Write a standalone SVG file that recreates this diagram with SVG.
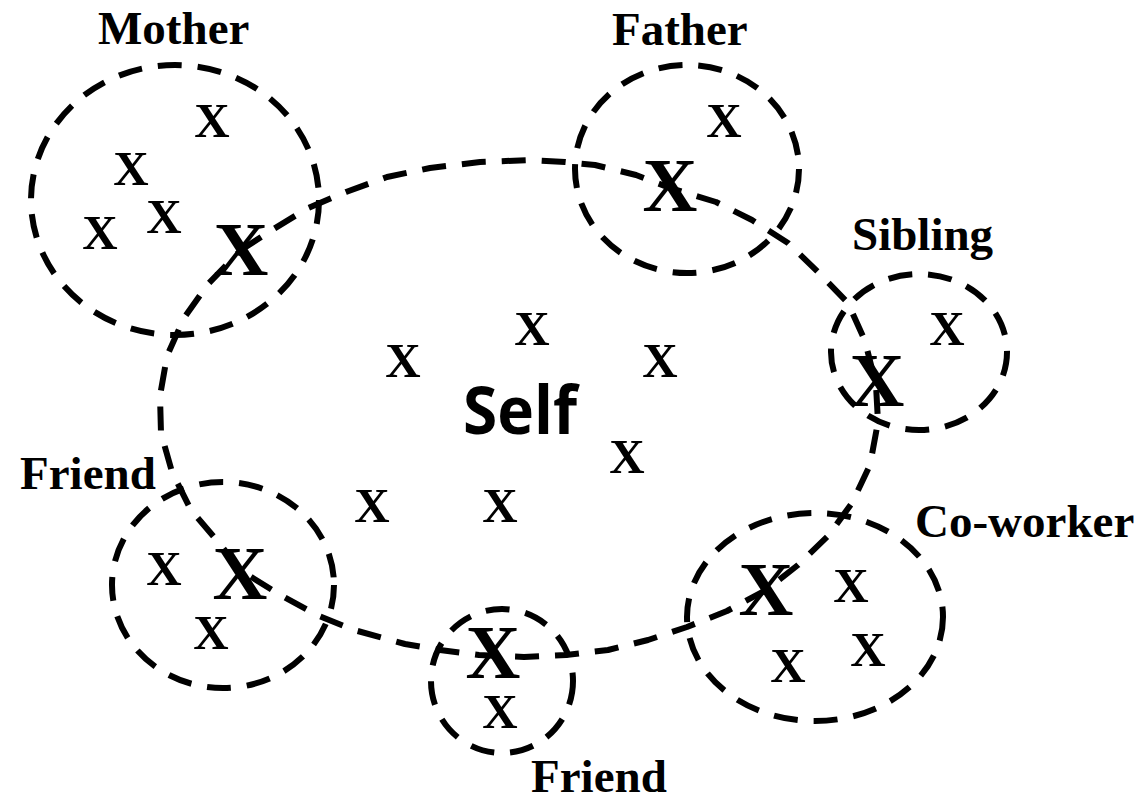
<svg xmlns="http://www.w3.org/2000/svg" width="1143" height="797" viewBox="0 0 1143 797">
<style>
.ring{fill:none;stroke:#000;stroke-width:6;stroke-dasharray:24 16;stroke-linejoin:round}
.lbl{font-family:"Liberation Serif","Times New Roman",serif;font-weight:bold;font-size:47px;fill:#000}
.x{font-family:"Liberation Serif","Times New Roman",serif;font-weight:bold;font-size:49px;fill:#000;text-anchor:middle}
.bx{font-family:"Liberation Serif","Times New Roman",serif;font-weight:bold;font-size:76px;fill:#000;text-anchor:middle}
.self{font-family:"Open Sans","Noto Sans",sans-serif;font-weight:bold;font-size:67px;fill:#000;text-anchor:middle}
</style>
<rect width="1143" height="797" fill="#fff"/>
<g id="self">
<path class="ring" d="M241,250 L272,230 L308,208 L346,192 L387,177 L430,168 L480,162 L530,160 L565,162 L595,165 L636,175 L670,188 L716,202 L752,220 L788,243 L818,272 L848,303 L865,341 L876,385 L878,422 L870,465 L852,503 L828,536 L798,565 L766,590 L727,611 L687,627 L648,640 L608,650 L566,655 L524,657 L479,655 L440,650 L405,644 L354,630 L319,616 L282,596 L240,570 L220,544 L191,510 L172,472 L161,433 L160,396 L167,356 L184,318 L208,284 Z"/>
<text class="self" x="520" y="434" textLength="114" lengthAdjust="spacingAndGlyphs">Self</text>
<text class="x" x="532" y="345">X</text>
<text class="x" x="403" y="377">X</text>
<text class="x" x="660" y="377">X</text>
<text class="x" x="627" y="473">X</text>
<text class="x" x="372" y="522">X</text>
<text class="x" x="500" y="522">X</text>
</g>
<g id="mother">
<ellipse class="ring" cx="175" cy="200" rx="144" ry="135"/>
<text class="lbl" x="98" y="44">Mother</text>
<text class="x" x="212" y="137">X</text>
<text class="x" x="131" y="185">X</text>
<text class="x" x="164" y="233">X</text>
<text class="x" x="100" y="249">X</text>
<text class="bx" x="241" y="275">X</text>
</g>
<g id="father">
<ellipse class="ring" cx="687" cy="169" rx="112" ry="104"/>
<text class="lbl" x="612" y="45">Father</text>
<text class="x" x="724" y="137">X</text>
<text class="bx" x="670" y="211">X</text>
</g>
<g id="sibling">
<ellipse class="ring" cx="919" cy="352" rx="88" ry="78"/>
<text class="lbl" x="852" y="250">Sibling</text>
<text class="x" x="947" y="345">X</text>
<text class="bx" x="877" y="406">X</text>
</g>
<g id="friend1">
<ellipse class="ring" cx="223" cy="585" rx="111" ry="103"/>
<text class="lbl" x="20" y="489">Friend</text>
<text class="x" x="164" y="585">X</text>
<text class="x" x="211" y="649">X</text>
<text class="bx" x="240" y="599">X</text>
</g>
<g id="friend2">
<ellipse class="ring" cx="502" cy="681" rx="71" ry="72"/>
<text class="lbl" x="531" y="792">Friend</text>
<text class="bx" x="493" y="678">X</text>
<text class="x" x="500" y="728">X</text>
</g>
<g id="coworker">
<ellipse class="ring" cx="815" cy="617" rx="128" ry="104"/>
<text class="lbl" x="915" y="537">Co-worker</text>
<text class="bx" x="766" y="615">X</text>
<text class="x" x="851" y="602">X</text>
<text class="x" x="868" y="666">X</text>
<text class="x" x="788" y="682">X</text>
</g>
<g id="connectors"></g>
</svg>
